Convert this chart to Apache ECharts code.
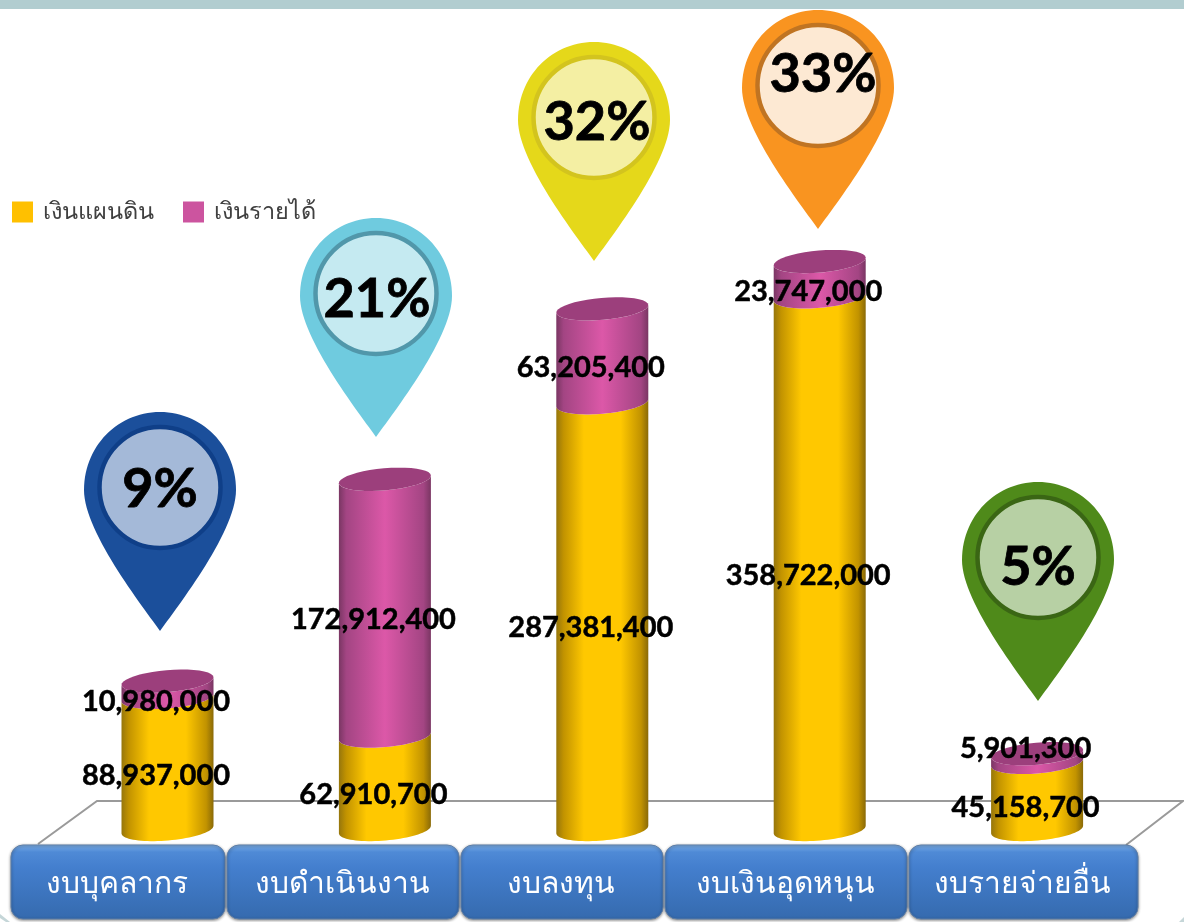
<!DOCTYPE html>
<html><head><meta charset="utf-8">
<style>html,body{margin:0;padding:0;background:#fff}#c{width:1184px;height:922px}</style>
<script src="https://cdn.jsdelivr.net/npm/echarts@6/dist/echarts.min.js"></script>
</head><body><div id="c"></div>
<script>
const categories = ['งบบุคลากร','งบดำเนินงาน','งบลงทุน','งบเงินอุดหนุน','งบรายจ่ายอื่น'];
const govBudget = [88937000,62910700,287381400,358722000,45158700];
const ownIncome = [10980000,172912400,63205400,23747000,5901300];
const shares = ['9%','21%','32%','33%','5%'];
const seriesNames = ['เงินแผนดิน','เงินรายได้'];

// layout & style (separate from the data)
const LATO = 'Lato, "Noto Sans", sans-serif';
const THAI = '"Noto Sans", "Open Sans", sans-serif';
const btn = [[11,214],[227,232],[461,202],[665,242],[909,229]];
const pins = [
 {x:160,y:631,dy:3,dx:0,c:'#1b4f9b',r:'#0f3f88',f:'#a4b9d8'},
 {x:376,y:437,dy:7,dx:1,c:'#6fcbdf',r:'#5197aa',f:'#c5eaf1'},
 {x:594,y:261,dy:6,dx:3,c:'#e5d81a',r:'#d3c41e',f:'#f4efa3'},
 {x:818,y:229,dy:-10,dx:5,c:'#f99420',r:'#c07422',f:'#fde9d3'},
 {x:1038,y:701,dy:11,dx:0,c:'#4f8a1a',r:'#3a6614',f:'#b7d0a4'}
];
const cylW = 46, tilt = 4, ry = 11;
const theme = [
 {stops:[[0,'#96760c'],[.08,'#c29300'],[.3,'#ffc800'],[.7,'#ffc800'],[.92,'#c29300'],[1,'#8a6a08']],top:'#ffc800'},
 {stops:[[0,'#7a3663'],[.08,'#a34583'],[.5,'#dc58a8'],[.92,'#a34583'],[1,'#7a3663']],top:'#9c3f7c'}
];
function ell(cx,cy,from,to){
  const th = Math.atan2(tilt,cylW), a = Math.hypot(cylW,tilt), pts=[];
  const n=40;
  for(let i=0;i<=n;i++){
    const t=from+(to-from)*i/n;
    const ex=a*Math.cos(t), ey=ry*Math.sin(t);
    pts.push([cx+ex*Math.cos(th)+ey*Math.sin(th), cy-ex*Math.sin(th)+ey*Math.cos(th)]);
  }
  return pts;
}
function cylinder(k){
  return function(p, api){
    const i = api.value(0);
    const a = api.coord([i, api.value(1)]);
    const b = api.coord([i, api.value(2)]);
    const cx = a[0], th = theme[k];
    const front1 = ell(cx,a[1],0,Math.PI);
    const front2 = ell(cx,b[1],Math.PI,0);
    const grad = {type:'linear',x:0,y:0,x2:1,y2:0,colorStops:th.stops.map(s=>({offset:s[0],color:s[1]}))};
    const children = [{type:'polygon',shape:{points:front1.concat(front2)},style:{fill:grad}}];
    if(k===1){
      children.push({type:'polygon',shape:{points:ell(cx,b[1],0,Math.PI*2)},style:{fill:th.top}});
    }
    return {type:'group',children};
  };
}
function labels(p, api){
  const i = api.value(0);
  const pt = api.coord([i, (api.value(1)+api.value(2))/2]);
  return {type:'text',x:pt[0]-11.5,y:pt[1]+api.value(4),style:{
    text:api.value(3).toLocaleString('en-US'),x:0,y:0,align:'center',verticalAlign:'middle',
    font:'bold 29px '+LATO,fill:'#000',stroke:'#000',lineWidth:0.5}};
}
const gov = govBudget.map((v,i)=>[i,0,v]);
const own = ownIncome.map((v,i)=>[i,govBudget[i],govBudget[i]+v]);
const labelData = govBudget.map((v,i)=>[i,0,v,v,12]).concat(
  ownIncome.map((v,i)=>[i,govBudget[i],govBudget[i]+v,v,i===4?-9:12]));

function bez(p0,p1,p2,p3,n){
  const out=[];
  for(let j=0;j<=n;j++){
    const t=j/n,u=1-t;
    out.push([u*u*u*p0[0]+3*u*u*t*p1[0]+3*u*t*t*p2[0]+t*t*t*p3[0],
              u*u*u*p0[1]+3*u*u*t*p1[1]+3*u*t*t*p2[1]+t*t*t*p3[1]]);
  }
  return out;
}
function pinOutline(x,y){
  const segs=[
    [[0,0],[-20,-28],[-76,-100],[-76,-141]],
    [[-76,-141],[-76,-185],[-42,-219],[0,-219]],
    [[0,-219],[42,-219],[76,-185],[76,-141]],
    [[76,-141],[76,-100],[20,-28],[0,0]]];
  let pts=[];
  segs.forEach(s=>{pts=pts.concat(bez(s[0],s[1],s[2],s[3],30));});
  return pts.map(q=>[x+q[0],y+q[1]]);
}

const graphics = [
 {type:'rect',shape:{x:0,y:0,width:1184,height:9},style:{fill:'#b2cdd0'},z:0},
 {type:'polyline',shape:{points:[[38,844],[97,801],[1183,801],[1126,845]]},style:{stroke:'#9a9a9a',lineWidth:2,fill:'#fff'},z:0},
 {type:'polygon',shape:{points:[[0,914],[0,918],[6,922],[10,922]]},style:{fill:'#c5d6d8'},z:0},
 {type:'polygon',shape:{points:[[1184,917],[1184,922],[1179,922]]},style:{fill:'#c5d6d8'},z:0}
];
categories.forEach((t,i)=>{
  const [x,w]=btn[i];
  graphics.push({type:'rect',z:5,shape:{x:x,y:845,width:w,height:74,r:12},style:{
    fill:{type:'linear',x:0,y:0,x2:0,y2:1,colorStops:[{offset:0,color:'#7fb2ea'},{offset:.1,color:'#4f8ad6'},{offset:.3,color:'#447fce'},{offset:1,color:'#356aae'}]},
    stroke:'#5d7ea8',lineWidth:1,shadowBlur:3,shadowColor:'rgba(0,0,0,.45)',shadowOffsetY:1}});
  graphics.push({type:'text',z:6,x:x+w/2-1,y:884,style:{text:t,align:'center',verticalAlign:'middle',font:'30px '+THAI,fill:'#fff'}});
});
shares.forEach((t,i)=>{
  const p=pins[i];
  graphics.push({type:'polygon',z:7,shape:{points:pinOutline(p.x,p.y)},style:{fill:p.c}});
  graphics.push({type:'circle',z:8,shape:{cx:p.x,cy:p.y-143.5,r:60.5},style:{fill:p.f,stroke:p.r,lineWidth:4.5}});
  graphics.push({type:'text',z:9,x:p.x+p.dx,y:p.y-144+p.dy,style:{text:t,align:'center',verticalAlign:'middle',font:'bold 54px '+LATO,fill:'#000',stroke:'#000',lineWidth:0.8}});
});

const chart = echarts.init(document.getElementById('c'),null,{renderer:'canvas'});
chart.setOption({
  animation:false,
  backgroundColor:'#fff',
  grid:{left:58.8,width:1087,top:87,height:742.5},
  xAxis:{type:'category',data:categories,show:false},
  yAxis:{type:'value',min:0,max:500000000,interval:100000000,show:false},
  legend:{data:seriesNames,left:12,top:200,padding:0,itemWidth:21,itemHeight:21,itemGap:29,icon:'rect',
    textStyle:{fontSize:23.5,color:'#404040',fontFamily:THAI,padding:[0,0,0,5]}},
  graphic:graphics,
  series:[
    {name:seriesNames[0],type:'custom',z:3,renderItem:cylinder(0),encode:{x:0,y:[1,2]},data:gov,itemStyle:{color:'#ffc000'}},
    {name:seriesNames[1],type:'custom',z:3,renderItem:cylinder(1),encode:{x:0,y:[1,2]},data:own,itemStyle:{color:'#cc549f'}},
    {type:'custom',z:10,renderItem:labels,encode:{x:0,y:[1,2]},data:labelData,silent:true}
  ]
});
</script></body></html>
